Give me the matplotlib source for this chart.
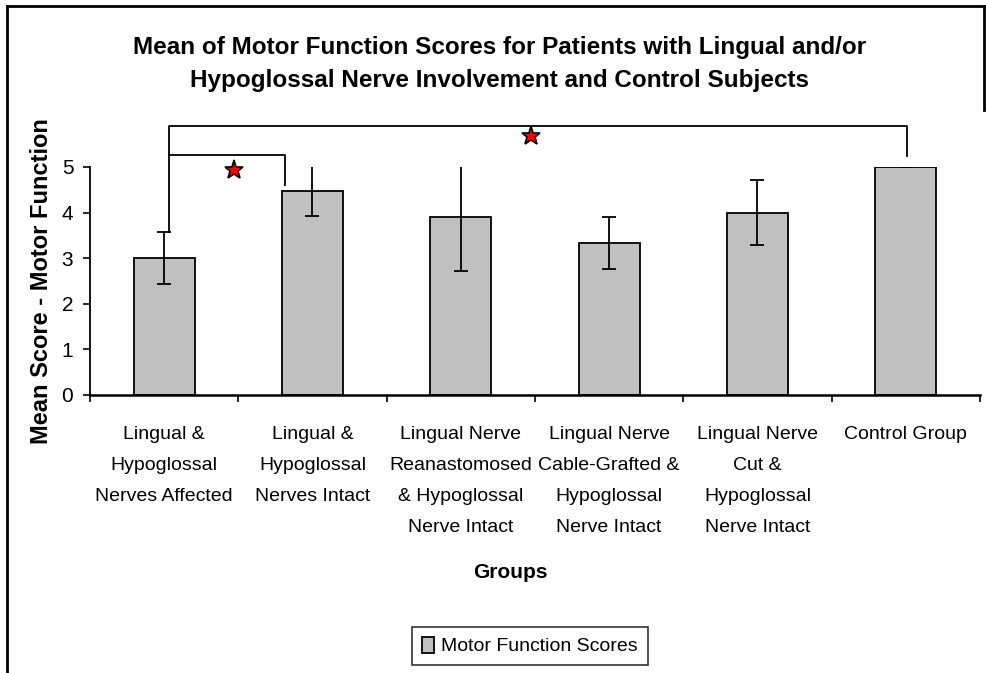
import numpy as np
import matplotlib.pyplot as plt
from matplotlib.lines import Line2D

groups = [
    "Lingual &\nHypoglossal\nNerves Affected",
    "Lingual &\nHypoglossal\nNerves Intact",
    "Lingual Nerve\nReanastomosed\n& Hypoglossal\nNerve Intact",
    "Lingual Nerve\nCable-Grafted &\nHypoglossal\nNerve Intact",
    "Lingual Nerve\nCut &\nHypoglossal\nNerve Intact",
    "Control Group",
]
means = [3.0, 4.47, 3.90, 3.33, 4.0, 5.0]
errors = [0.57, 0.55, 1.17, 0.57, 0.72, 0.0]

plt.rcParams['font.family'] = ['Liberation Sans', 'DejaVu Sans']

fig = plt.figure(figsize=(9.87, 6.73), dpi=100)
ax = fig.add_axes([90/987, 1 - 395/673, 890/987, 228/673])

x = np.arange(len(groups))
bars = ax.bar(x, means, width=0.41, color="#c0c0c0", edgecolor="black",
              linewidth=1.3, label="Motor Function Scores", zorder=2)
ax.errorbar(x, means, yerr=errors, fmt="none", ecolor="black",
            elinewidth=1.3, capsize=5, capthick=1.3, zorder=3)

ax.set_xlim(-0.5, len(groups) - 0.5)
ax.set_ylim(0, 5)
ax.set_yticks(range(6))
ax.set_xticks(x)
ax.set_xticklabels(groups, fontsize=14, linespacing=2.1)
ax.set_xticks(np.arange(-0.5, len(groups)), minor=True)
ax.tick_params(axis="x", which="major", length=0, pad=22)
ax.tick_params(axis="x", which="minor", length=5, width=1.2, direction="out")
ax.tick_params(axis="y", length=5, width=1.2, direction="out", labelsize=15, pad=7)
for s in ["top", "right"]:
    ax.spines[s].set_visible(False)
ax.spines["left"].set_linewidth(1.3)
ax.spines["bottom"].set_linewidth(1.8)

# significance brackets
kw = dict(color="black", lw=1.3, clip_on=False, zorder=4)
ax.plot([0.03, 0.03, 5.01, 5.01], [3.58, 5.91, 5.91, 5.24], **kw)
ax.plot([0.03, 0.815, 0.815], [5.27, 5.27, 4.6], **kw)
ax.plot([0.47, 2.47], [4.93, 5.68], linestyle="none", marker="*", markersize=14,
        markerfacecolor="red", markeredgecolor="black", markeredgewidth=1.2,
        clip_on=False, zorder=5)

ax.set_ylabel("Mean Score - Motor Function", fontsize=17, fontweight="bold")
ax.yaxis.set_label_coords(-37/890, 0.5)
fig.text(510/987, 1 - 573/673, "Groups", fontsize=15, fontweight="bold",
         ha="center", va="center")
fig.text(500/987, 1 - 64/673,
         "Mean of Motor Function Scores for Patients with Lingual and/or\n"
         "Hypoglossal Nerve Involvement and Control Subjects",
         fontsize=17.5, fontweight="bold", ha="center", va="center", linespacing=1.6)

leg = fig.legend(handles=[bars], loc="center", bbox_to_anchor=(530/987, 1 - 646/673),
                 frameon=True, fancybox=False, edgecolor="black", fontsize=14,
                 handlelength=0.6, handleheight=0.9, handletextpad=0.4,
                 borderpad=0.5)
leg.get_frame().set_linewidth(1.2)

# outer frame of the chart area
fig.add_artist(Line2D([7/987, 7/987], [0, 1 - 6/673], color="black", lw=2))
fig.add_artist(Line2D([7/987, 984/987], [1 - 6/673, 1 - 6/673], color="black", lw=2))
fig.add_artist(Line2D([984/987, 984/987], [1 - 6/673, 1 - 110/673], color="black", lw=2))

fig.savefig("out.png", dpi=100)
